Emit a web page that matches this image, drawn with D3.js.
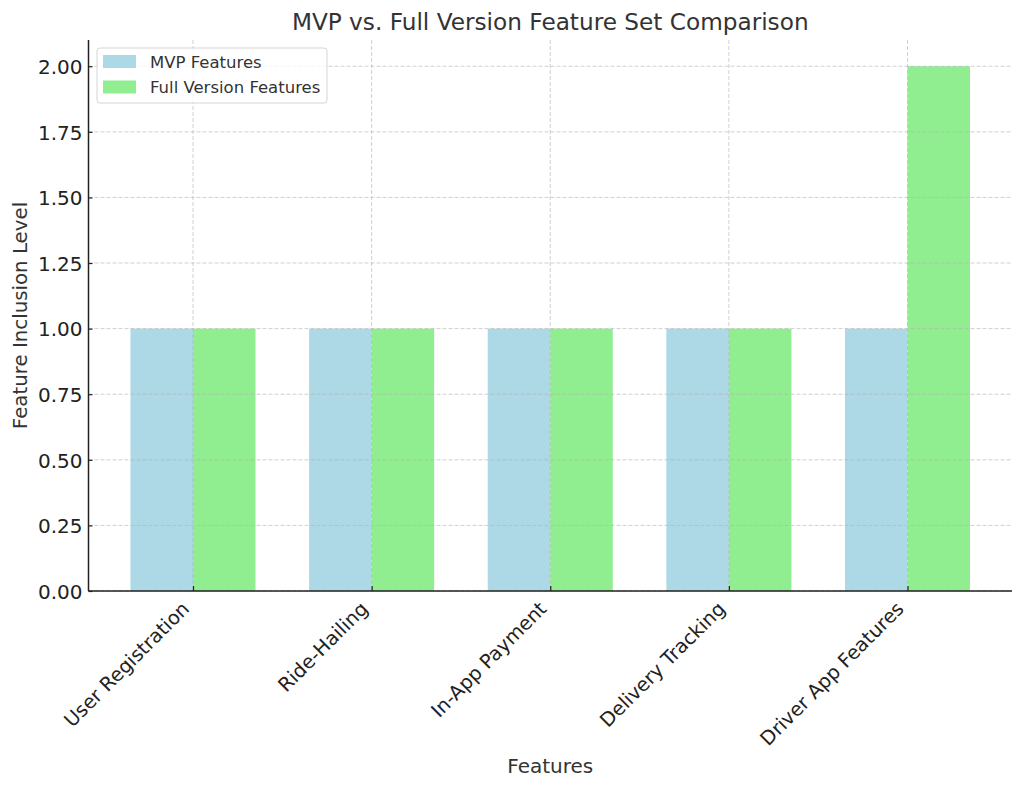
<!DOCTYPE html>
<html>
<head>
<meta charset="utf-8">
<script src="https://cdn.jsdelivr.net/npm/d3@7"></script>
<style>
  body { margin: 0; background: #fff; }
  text { font-family: "DejaVu Sans", sans-serif; fill: #333; }
</style>
</head>
<body>
<div id="chartContainer"></div>
<script>
const categories = ["User Registration", "Ride-Hailing", "In-App Payment", "Delivery Tracking", "Driver App Features"];
const mvpValues = [1, 1, 1, 1, 1];
const fullValues = [1, 1, 1, 1, 2];
const yTicks = [0, 0.25, 0.5, 0.75, 1.0, 1.25, 1.5, 1.75, 2.0];
const seriesNames = ["MVP Features", "Full Version Features"];
const seriesColors = ["#add8e6", "#90ee90"];

const chartWidth = 1024;
const chartHeight = 789;
const margin = { top: 40, right: 12, bottom: 198, left: 88.5 };
const width = chartWidth - margin.left - margin.right;
const height = chartHeight - margin.top - margin.bottom;
const barW = 0.35;

const svg = d3.select("#chartContainer").append("svg")
  .attr("width", chartWidth)
  .attr("height", chartHeight);

const g = svg.append("g")
  .attr("transform", `translate(${margin.left}, ${margin.top})`);

// numeric x like matplotlib: bars span [-0.35, 4.35], 5% margin
const xScale = d3.scaleLinear()
  .domain([-0.585, categories.length - 1 + 0.585])
  .range([0, width]);

const yScale = d3.scaleLinear()
  .domain([0, 2.1])
  .range([height, 0]);

// bars
const series = [mvpValues, fullValues];
series.forEach((vals, s) => {
  g.selectAll(".bar" + s)
    .data(vals)
    .enter().append("rect")
    .attr("class", "bar" + s)
    .attr("x", (d, i) => xScale(i + (s === 0 ? -barW : 0)))
    .attr("width", xScale(barW) - xScale(0))
    .attr("y", d => yScale(d))
    .attr("height", d => height - yScale(d))
    .style("fill", seriesColors[s]);
});

// grid
g.append("g")
  .selectAll("line")
  .data(yTicks)
  .enter().append("line")
  .attr("x1", 0).attr("x2", width)
  .attr("y1", d => yScale(d)).attr("y2", d => yScale(d))
  .style("stroke", "#b0b0b0")
  .style("stroke-opacity", 0.6)
  .style("stroke-dasharray", "4,2")
  .style("stroke-width", 1);

g.append("g")
  .selectAll("line")
  .data(categories)
  .enter().append("line")
  .attr("x1", (d, i) => xScale(i)).attr("x2", (d, i) => xScale(i))
  .attr("y1", 0).attr("y2", height)
  .style("stroke", "#b0b0b0")
  .style("stroke-opacity", 0.6)
  .style("stroke-dasharray", "4,2")
  .style("stroke-width", 1);

// axes
const yAxis = g.append("g")
  .call(d3.axisLeft(yScale).tickValues(yTicks).tickFormat(d3.format(".2f")).tickSize(-4).tickPadding(6));
yAxis.select(".domain").attr("d", `M0,${height}V0`).style("stroke", "#222").style("stroke-width", 1.5);
yAxis.selectAll(".tick line").style("stroke", "#222").style("stroke-width", 1.2);
yAxis.selectAll("text")
  .style("font-size", "20px")
  .style("fill", "#222")
  .attr("dy", "0.36em");

const xAxis = g.append("g")
  .attr("transform", `translate(0, ${height})`)
  .call(d3.axisBottom(xScale)
    .tickValues(d3.range(categories.length))
    .tickFormat(i => categories[i])
    .tickSize(-5));
xAxis.select(".domain").attr("d", `M0,0H${width}`).style("stroke", "#222").style("stroke-width", 1.5);
xAxis.selectAll(".tick line").style("stroke", "#222").style("stroke-width", 1.2);
xAxis.selectAll("text")
  .style("font-size", "19.4px")
  .style("fill", "#222")
  .style("text-anchor", "end")
  .attr("x", -3)
  .attr("y", 19)
  .attr("dy", 0)
  .attr("transform", "rotate(-45, -3, 19)");

// title
svg.append("text")
  .attr("x", margin.left + width / 2)
  .attr("y", 30)
  .attr("text-anchor", "middle")
  .style("font-size", "23.2px")
  .text("MVP vs. Full Version Feature Set Comparison");

// axis labels
svg.append("text")
  .attr("x", margin.left + width / 2)
  .attr("y", 773)
  .attr("text-anchor", "middle")
  .style("font-size", "20px")
  .text("Features");

svg.append("text")
  .attr("transform", `translate(27, ${margin.top + height / 2}) rotate(-90)`)
  .attr("text-anchor", "middle")
  .style("font-size", "19.8px")
  .text("Feature Inclusion Level");

// legend
const legend = svg.append("g").attr("transform", "translate(97, 48)");
legend.append("rect")
  .attr("width", 230).attr("height", 55)
  .attr("rx", 3)
  .style("fill", "#fff").style("fill-opacity", 0.8)
  .style("stroke", "#d5d5d5");
seriesNames.forEach((name, i) => {
  legend.append("rect")
    .attr("x", 6).attr("y", 7 + i * 25.5)
    .attr("width", 33).attr("height", 13)
    .style("fill", seriesColors[i]);
  legend.append("text")
    .attr("x", 53).attr("y", 19.5 + i * 25.5)
    .style("font-size", "16.5px")
    .text(name);
});
</script>
</body>
</html>
